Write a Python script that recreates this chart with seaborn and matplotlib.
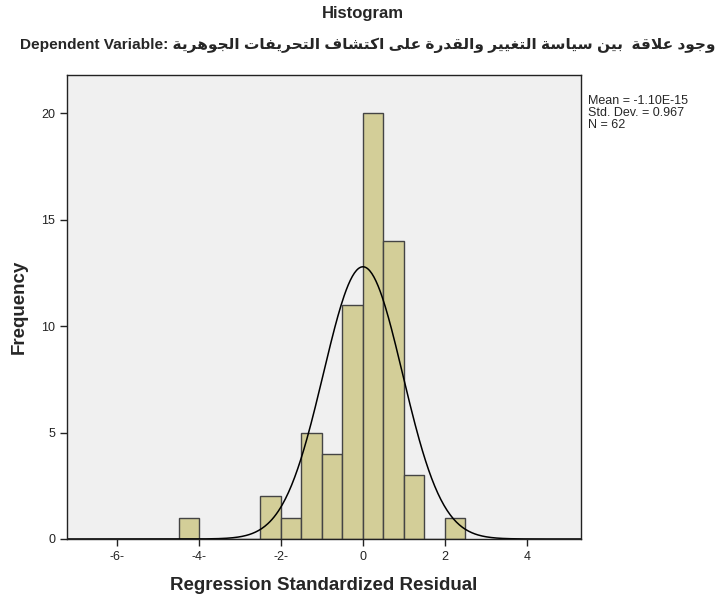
import numpy as np
import pandas as pd
import matplotlib
matplotlib.use("Agg")
import matplotlib.pyplot as plt
import seaborn as sns

# histogram data read from the SPSS output (bin width 0.5)
bin_left = [-4.5, -2.5, -2.0, -1.5, -1.0, -0.5, 0.0, 0.5, 1.0, 2.0]
counts = [1, 2, 1, 5, 4, 11, 20, 14, 3, 1]
bin_width = 0.5
res_mean = -1.10e-15
res_std = 0.967
n_obs = 62

x_ticks = [-6, -4, -2, 0, 2, 4]
x_ticklabels = ["-6-", "-4-", "-2-", "0", "2", "4"]
y_ticks = [0, 5, 10, 15, 20]

# dependent variable label, words in reading order
dep_words = ["وجود", "علاقة", "", "بين", "سياسة", "التغيير", "والقدرة", "على",
             "اكتشاف", "التحريفات", "الجوهرية"]

# minimal arabic shaping (isolated, final, initial, medial)
FORMS = {
    "ا": ("\uFE8D", "\uFE8E", None, None),
    "ب": ("\uFE8F", "\uFE90", "\uFE91", "\uFE92"),
    "ة": ("\uFE93", "\uFE94", None, None),
    "ت": ("\uFE95", "\uFE96", "\uFE97", "\uFE98"),
    "ج": ("\uFE9D", "\uFE9E", "\uFE9F", "\uFEA0"),
    "ح": ("\uFEA1", "\uFEA2", "\uFEA3", "\uFEA4"),
    "د": ("\uFEA9", "\uFEAA", None, None),
    "ر": ("\uFEAD", "\uFEAE", None, None),
    "س": ("\uFEB1", "\uFEB2", "\uFEB3", "\uFEB4"),
    "ش": ("\uFEB5", "\uFEB6", "\uFEB7", "\uFEB8"),
    "ع": ("\uFEC9", "\uFECA", "\uFECB", "\uFECC"),
    "غ": ("\uFECD", "\uFECE", "\uFECF", "\uFED0"),
    "ف": ("\uFED1", "\uFED2", "\uFED3", "\uFED4"),
    "ق": ("\uFED5", "\uFED6", "\uFED7", "\uFED8"),
    "ك": ("\uFED9", "\uFEDA", "\uFEDB", "\uFEDC"),
    "ل": ("\uFEDD", "\uFEDE", "\uFEDF", "\uFEE0"),
    "ن": ("\uFEE5", "\uFEE6", "\uFEE7", "\uFEE8"),
    "ه": ("\uFEE9", "\uFEEA", "\uFEEB", "\uFEEC"),
    "و": ("\uFEED", "\uFEEE", None, None),
    "ى": ("\uFEEF", "\uFEF0", None, None),
    "ي": ("\uFEF1", "\uFEF2", "\uFEF3", "\uFEF4"),
    "LA": ("\uFEFB", "\uFEFC", None, None),
}


def shape_word(word):
    chars = []
    i = 0
    while i < len(word):
        if word[i] == "ل" and i + 1 < len(word) and word[i + 1] == "ا":
            chars.append("LA")
            i += 2
        else:
            chars.append(word[i])
            i += 1
    out = []
    for k, c in enumerate(chars):
        f = FORMS[c]
        prev_join = k > 0 and FORMS[chars[k - 1]][2] is not None
        next_join = k + 1 < len(chars) and f[2] is not None
        if prev_join and next_join:
            out.append(f[3])
        elif prev_join:
            out.append(f[1])
        elif next_join:
            out.append(f[2])
        else:
            out.append(f[0])
    # matplotlib draws left to right, so flip for rtl
    return "".join(out[::-1])


subtitle = "Dependent Variable: " + " ".join(shape_word(w) for w in dep_words[::-1])

sns.set_theme(style="ticks")
plt.rcParams["font.family"] = ["Liberation Sans", "DejaVu Sans"]

fig = plt.figure(figsize=(7.26, 6), dpi=100)
ax = fig.add_axes([0.0923, 0.1017, 0.7080, 0.7733])
ax.set_facecolor("#f0f0f0")

df = pd.DataFrame({"x": np.array(bin_left) + bin_width / 2, "w": counts})
sns.histplot(data=df, x="x", weights="w", binwidth=bin_width, binrange=(-4.5, 2.5),
             ax=ax, color="#d3ce98", edgecolor="#444444", linewidth=1.0, alpha=1)

xmin, xmax = -7.22, 5.32
xs = np.linspace(xmin, xmax, 500)
ys = n_obs * bin_width * np.exp(-0.5 * ((xs - res_mean) / res_std) ** 2) / (res_std * np.sqrt(2 * np.pi))
sns.lineplot(x=xs, y=ys, ax=ax, color="black", linewidth=1.1)

ax.set_xlim(xmin, xmax)
ax.set_ylim(0, 21.8)
ax.set_xticks(x_ticks)
ax.set_xticklabels(x_ticklabels)
ax.set_yticks(y_ticks)
ax.tick_params(axis="both", labelsize=9, colors="#222222", length=5, width=1, direction="out")
for s in ax.spines.values():
    s.set_visible(True)
    s.set_color("#222222")
    s.set_linewidth(1)

ax.set_xlabel("Regression Standardized Residual", fontsize=13.5, fontweight="bold", labelpad=10)
ax.set_ylabel("Frequency", fontsize=13.5, fontweight="bold", labelpad=10)

fig.text(0.5, 0.978, "Histogram", ha="center", va="center", fontsize=12, fontweight="bold")
fig.text(0.507, 0.925, subtitle, ha="center", va="center", fontsize=11.1, fontweight="bold")

fig.text(0.81, 0.842, "Mean = -1.10E-15\nStd. Dev. = 0.967\nN = 62", ha="left", va="top",
         fontsize=9, linespacing=1.0)

fig.savefig("out.png", dpi=100)
plt.close(fig)
